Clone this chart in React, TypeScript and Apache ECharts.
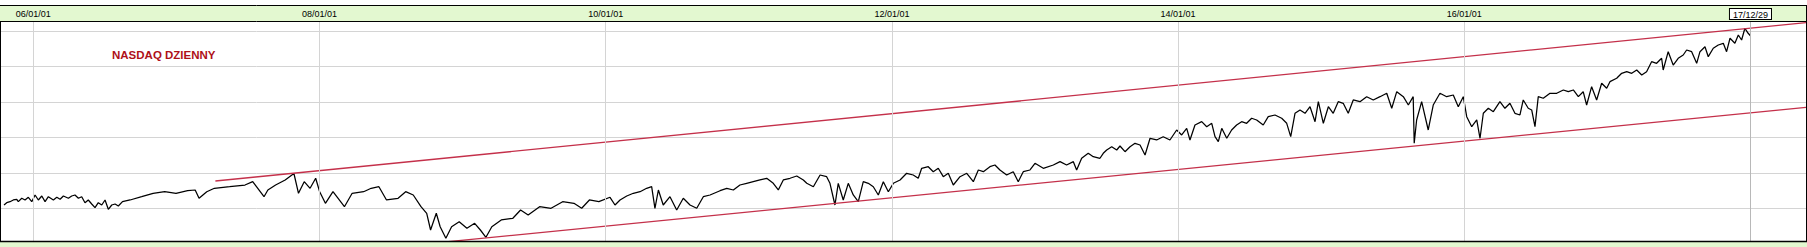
import React, { useEffect, useRef } from "react";
import * as echarts from "echarts";

// ---- data (x in decimal years, y in index points) ----
const years: number[] = [
  2005.795, 2005.814, 2005.837, 2005.86, 2005.884, 2005.895, 2005.919, 2005.942, 2005.965, 2005.989,
  2006.012, 2006.035, 2006.059, 2006.082, 2006.105, 2006.14, 2006.164, 2006.187, 2006.21, 2006.245,
  2006.268, 2006.291, 2006.315, 2006.338, 2006.361, 2006.384, 2006.408, 2006.431, 2006.454, 2006.478,
  2006.501, 2006.524, 2006.548, 2006.571, 2006.594, 2006.623, 2006.676, 2006.757, 2006.837, 2006.918,
  2006.997, 2007.078, 2007.131, 2007.158, 2007.212, 2007.265, 2007.372, 2007.479, 2007.533, 2007.612,
  2007.639, 2007.693, 2007.76, 2007.821, 2007.853, 2007.893, 2007.934, 2007.973, 2008.001, 2008.041,
  2008.094, 2008.174, 2008.228, 2008.308, 2008.361, 2008.415, 2008.468, 2008.549, 2008.602, 2008.655,
  2008.709, 2008.749, 2008.776, 2008.816, 2008.843, 2008.883, 2008.923, 2008.976, 2009.03, 2009.084,
  2009.124, 2009.163, 2009.204, 2009.27, 2009.351, 2009.405, 2009.458, 2009.538, 2009.618, 2009.699,
  2009.778, 2009.832, 2009.886, 2009.952, 2010.03, 2010.065, 2010.1, 2010.147, 2010.193, 2010.24,
  2010.286, 2010.321, 2010.344, 2010.368, 2010.402, 2010.449, 2010.496, 2010.542, 2010.589, 2010.636,
  2010.682, 2010.729, 2010.799, 2010.846, 2010.892, 2010.938, 2010.985, 2011.031, 2011.078, 2011.125,
  2011.171, 2011.206, 2011.241, 2011.288, 2011.335, 2011.381, 2011.405, 2011.451, 2011.498, 2011.544,
  2011.567, 2011.602, 2011.625, 2011.66, 2011.695, 2011.73, 2011.765, 2011.8, 2011.835, 2011.87,
  2011.905, 2011.94, 2011.975, 2012.01, 2012.057, 2012.103, 2012.149, 2012.184, 2012.208, 2012.254,
  2012.289, 2012.324, 2012.359, 2012.394, 2012.429, 2012.476, 2012.523, 2012.569, 2012.604, 2012.639,
  2012.685, 2012.72, 2012.755, 2012.802, 2012.848, 2012.883, 2012.918, 2012.965, 2013.0, 2013.058,
  2013.128, 2013.175, 2013.221, 2013.268, 2013.291, 2013.326, 2013.372, 2013.407, 2013.454, 2013.477,
  2013.501, 2013.536, 2013.571, 2013.594, 2013.629, 2013.664, 2013.699, 2013.734, 2013.769, 2013.804,
  2013.85, 2013.896, 2013.943, 2013.99, 2014.025, 2014.06, 2014.083, 2014.118, 2014.165, 2014.2,
  2014.235, 2014.258, 2014.281, 2014.305, 2014.34, 2014.374, 2014.409, 2014.444, 2014.479, 2014.514,
  2014.549, 2014.595, 2014.63, 2014.677, 2014.724, 2014.759, 2014.787, 2014.817, 2014.852, 2014.887,
  2014.922, 2014.957, 2014.98, 2015.015, 2015.05, 2015.084, 2015.119, 2015.154, 2015.189, 2015.224,
  2015.271, 2015.318, 2015.364, 2015.411, 2015.458, 2015.493, 2015.528, 2015.574, 2015.609, 2015.643,
  2015.65, 2015.667, 2015.702, 2015.748, 2015.783, 2015.83, 2015.877, 2015.923, 2015.958, 2015.993,
  2016.017, 2016.052, 2016.087, 2016.11, 2016.133, 2016.168, 2016.203, 2016.249, 2016.284, 2016.319,
  2016.354, 2016.389, 2016.412, 2016.447, 2016.471, 2016.494, 2016.517, 2016.552, 2016.599, 2016.646,
  2016.692, 2016.727, 2016.762, 2016.797, 2016.831, 2016.855, 2016.89, 2016.925, 2016.96, 2016.995,
  2017.018, 2017.065, 2017.1, 2017.135, 2017.17, 2017.205, 2017.24, 2017.274, 2017.309, 2017.344,
  2017.379, 2017.39, 2017.425, 2017.46, 2017.495, 2017.53, 2017.554, 2017.589, 2017.624, 2017.647,
  2017.682, 2017.705, 2017.74, 2017.775, 2017.81, 2017.833, 2017.857, 2017.891, 2017.915, 2017.938,
  2017.961, 2017.984, 2018.001,
];
const values: number[] = [
  2093, 2158, 2187, 2235, 2254, 2187, 2283, 2235, 2311, 2187,
  2376, 2235, 2348, 2187, 2328, 2235, 2311, 2254, 2348, 2283,
  2348, 2376, 2283, 2328, 2158, 2235, 2122, 2017, 2158, 2093,
  2235, 1972, 2093, 2122, 2065, 2187, 2235, 2328, 2424, 2469,
  2424, 2497, 2517, 2283, 2469, 2565, 2610, 2658, 2752, 2328,
  2517, 2658, 2800, 2983, 2424, 2752, 2565, 2848, 2469, 2141,
  2469, 2045, 2424, 2469, 2565, 2610, 2235, 2283, 2469, 2376,
  2045, 1859, 1387, 1859, 1480, 1153, 1480, 1622, 1435, 1576,
  1387, 1181, 1480, 1670, 1718, 1952, 1811, 2045, 2000, 2187,
  2141, 2000, 2235, 2187, 2311, 2093, 2235, 2348, 2424, 2469,
  2565, 2610, 2000, 2517, 2093, 2328, 1952, 2283, 2093, 2000,
  2328, 2376, 2497, 2565, 2517, 2658, 2706, 2752, 2800, 2848,
  2706, 2517, 2800, 2848, 2913, 2800, 2706, 2610, 2941, 2893,
  2706, 2093, 2706, 2235, 2706, 2376, 2187, 2752, 2706, 2610,
  2376, 2752, 2469, 2706, 2800, 2989, 2941, 2848, 3130, 3175,
  3034, 3130, 2893, 2989, 2658, 2893, 2989, 2752, 3082, 3034,
  3175, 3223, 3082, 2941, 3034, 2752, 3034, 3082, 3271, 3130,
  3223, 3317, 3223, 3317, 3082, 3413, 3554, 3458, 3413, 3554,
  3647, 3740, 3647, 3760, 3599, 3740, 3836, 3788, 3506, 3978,
  3930, 4023, 3930, 4212, 4071, 4260, 3930, 4353, 4447, 4305,
  4401, 4023, 3882, 4260, 3978, 4212, 4353, 4447, 4401, 4543,
  4495, 4353, 4588, 4636, 4543, 4401, 4023, 4684, 4777, 4684,
  4870, 4447, 5012, 4401, 4870, 4684, 5012, 4966, 4684, 5060,
  5012, 5153, 5060, 5153, 5249, 4825, 5294, 5153, 4918, 5153,
  3836, 4495, 5012, 4212, 4918, 5249, 5153, 5201, 4870, 5153,
  4588, 4305, 4495, 3978, 4684, 4825, 4729, 5012, 4825, 4966,
  4684, 4636, 5060, 4825, 4777, 4305, 5153, 5108, 5249, 5249,
  5342, 5294, 5342, 5153, 5294, 4918, 5435, 5060, 5531, 5390,
  5577, 5673, 5814, 5859, 5814, 5907, 5766, 5859, 6142, 6096,
  6238, 5907, 6424, 6048, 6238, 6331, 6472, 6424, 6096, 6424,
  6565, 6283, 6520, 6613, 6661, 6424, 6803, 6661, 6896, 6755,
  7085, 6944, 6868,
];

// trend channel (two parallel lines)
const upperTrend: [number, number][] = [[2007.272, 2771], [2018.388, 7243]];
const lowerTrend: [number, number][] = [[2008.901, 1057], [2018.388, 4853]];

// axes
const xMin = 2005.767;
const xMax = 2018.388;
const yMin = 1000;
const yMax = 7291;
const yStep = 1000;
const xTicks: number[] = [2006, 2008, 2010, 2012, 2014, 2016];
const xTickLabels: string[] = ["06/01/01", "08/01/01", "10/01/01", "12/01/01", "14/01/01", "16/01/01"];
const lastDateLabel = "17/12/29";
const titleText = "NASDAQ DZIENNY";

const W = 1807;
const H = 247;
const GREEN = "#e3f8d0";
const FONT = "Liberation Sans, Arial, sans-serif";
const TREND = "#c4304a";

export default function App() {
  const ref = useRef<HTMLDivElement>(null);
  useEffect(() => {
    if (!ref.current) return;
    const chart = echarts.init(ref.current, undefined, { renderer: "svg" });
    const seriesData = years.map((y, i) => [y, values[i]]);
    const lastX = years[years.length - 1];

    const tickLines: any[] = xTicks.map((v, i) => ({
      xAxis: v,
      label: { formatter: xTickLabels[i] },
    }));
    tickLines.push({
      xAxis: lastX,
      lineStyle: { color: "#b8b8b8" },
      label: {
        formatter: lastDateLabel,
        backgroundColor: "#ffffff",
        borderColor: "#000000",
        borderWidth: 1,
        padding: [1, 3, 0, 3],
        lineHeight: 9,
        distance: 2,
      },
    });

    chart.setOption({
      animation: false,
      title: {
        text: titleText,
        left: 112,
        top: 49,
        padding: 0,
        textStyle: { color: "#ae1018", fontSize: 11.5, fontWeight: "bold", fontFamily: FONT },
      },
      grid: { left: 0, right: 1, top: 21, bottom: 3.3, containLabel: false },
      xAxis: {
        type: "value",
        min: xMin,
        max: xMax,
        show: true,
        axisLine: { show: false },
        axisTick: { show: false },
        axisLabel: { show: false },
        splitLine: { show: false },
      },
      yAxis: {
        type: "value",
        min: yMin,
        max: yMax,
        interval: yStep,
        axisLine: { show: false },
        axisTick: { show: false },
        axisLabel: { show: false },
        splitLine: { show: true, lineStyle: { color: "#d4d4d4", width: 1 } },
      },
      graphic: [
        { type: "rect", z: 0, shape: { x: 0, y: 5, width: W, height: 16 }, style: { fill: GREEN } },
        { type: "rect", z: 100, shape: { x: 0, y: 242, width: W, height: 5 }, style: { fill: GREEN } },
        { type: "line", z: 101, shape: { x1: 0, y1: 5.5, x2: W, y2: 5.5 }, style: { stroke: "#000", lineWidth: 1 } },
        { type: "line", z: 101, shape: { x1: 0, y1: 21.5, x2: W, y2: 21.5 }, style: { stroke: "#000", lineWidth: 1 } },
        { type: "line", z: 101, shape: { x1: 0, y1: 241.5, x2: W, y2: 241.5 }, style: { stroke: "#000", lineWidth: 1.3 } },
        { type: "line", z: 101, shape: { x1: 0.5, y1: 21, x2: 0.5, y2: 242 }, style: { stroke: "#000", lineWidth: 1 } },
        { type: "line", z: 101, shape: { x1: 1806.5, y1: 5, x2: 1806.5, y2: 242 }, style: { stroke: "#000", lineWidth: 1 } },
      ],
      series: [
        {
          type: "line",
          name: "grid",
          data: [],
          z: 1,
          clip: false,
          silent: true,
          markLine: {
            silent: true,
            symbol: ["none", "none"],
            animation: false,
            lineStyle: { color: "#d4d4d4", type: "solid", width: 1 },
            label: {
              show: true,
              position: "end",
              distance: 3,
              color: "#000",
              fontSize: 9,
              fontFamily: FONT,
              lineHeight: 9,
            },
            emphasis: { disabled: true },
            data: tickLines,
          },
        },
        {
          type: "line",
          name: "NASDAQ",
          data: seriesData,
          showSymbol: false,
          symbol: "none",
          z: 3,
          lineStyle: { color: "#000000", width: 1.25 },
        },
        {
          type: "line",
          name: "upper",
          data: upperTrend,
          showSymbol: false,
          symbol: "none",
          z: 4,
          lineStyle: { color: TREND, width: 1.3 },
        },
        {
          type: "line",
          name: "lower",
          data: lowerTrend,
          showSymbol: false,
          symbol: "none",
          z: 4,
          lineStyle: { color: TREND, width: 1.3 },
        },
      ],
    });
    return () => chart.dispose();
  }, []);
  return (
    <div
      ref={ref}
      style={{ position: "absolute", left: 0, top: 0, width: W, height: H, background: "#fff" }}
    />
  );
}
